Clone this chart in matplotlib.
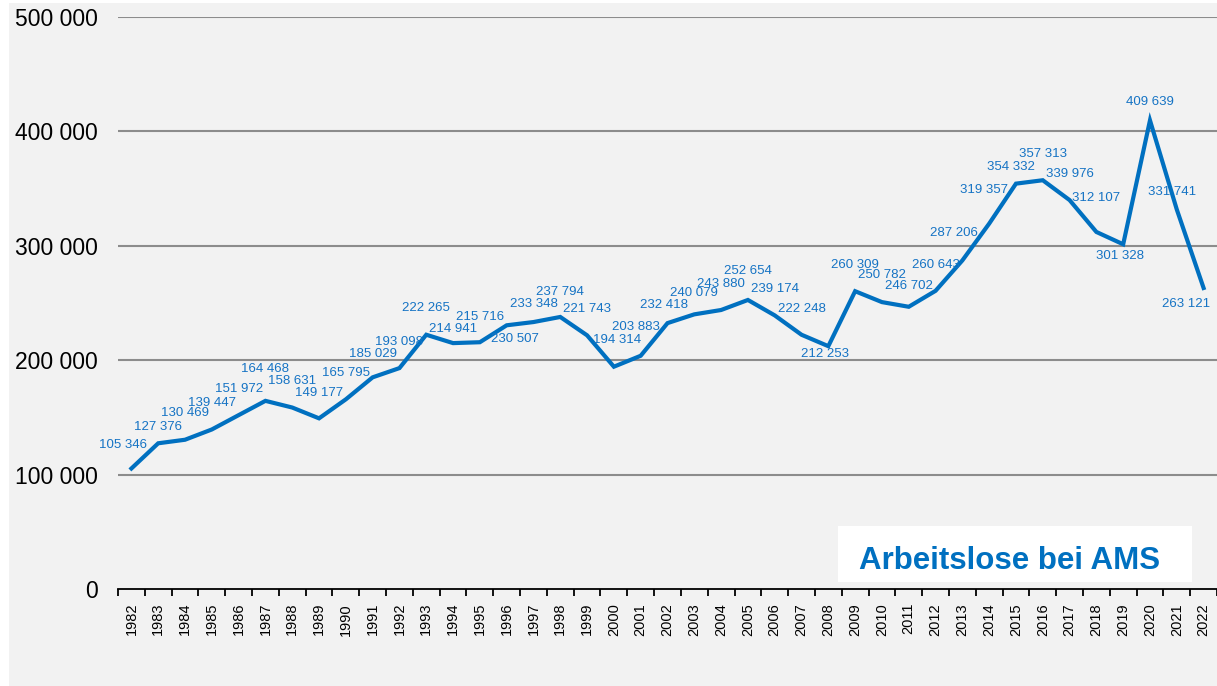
import matplotlib.pyplot as plt
from matplotlib.patches import Rectangle

plt.rcParams['font.family'] = ['Liberation Sans', 'DejaVu Sans']

# Arbeitslose bei AMS, Jahresdurchschnitt
years = list(range(1982, 2023))
values = [105346, 127376, 130469, 139447, 151972, 164468, 158631, 149177, 165795, 185029,
          193098, 222265, 214941, 215716, 230507, 233348, 237794, 221743, 194314, 203883,
          232418, 240079, 243880, 252654, 239174, 222248, 212253, 260309, 250782, 246702,
          260643, 287206, 319357, 354332, 357313, 339976, 312107, 301328, 409639, 331741,
          263121]
y_ticks = [0, 100000, 200000, 300000, 400000, 500000]

# label offsets in pixels (dx, dy), dy positive = below
label_off = [(-8, -23), (0, -16), (0, -27), (0, -26), (0, -26), (0, -32), (0, -27), (0, -25),
             (0, -26), (0, -23), (0, -26), (0, -27), (0, -14), (0, -25), (8, 14), (0, -18),
             (0, -25), (0, -26), (3, -27), (-5, -29), (-3, -18), (0, -21), (0, -26), (0, -29),
             (0, -26), (0, -26), (-3, 8), (0, -26), (0, -27), (0, -21), (0, -26), (-8, -27),
             (-5, -34), (-5, -17), (0, -26), (0, -26), (0, -34), (-3, 12), (0, -18), (-5, -17),
             (-18, 16)]

W, H = 1217, 686
fig = plt.figure(figsize=(W / 100, H / 100), dpi=100)
fig.patch.set_facecolor('white')
fig.patches.append(Rectangle((9 / W, 0), 1 - 9 / W, (H - 3) / H, transform=fig.transFigure,
                             facecolor='#f2f2f2', edgecolor='none', zorder=-1))

ax = fig.add_axes([118 / W, (H - 589) / H, (W - 118) / W, (589 - 17) / H])
ax.set_facecolor('#f2f2f2')
x = list(range(len(years)))
blue = '#0070c0'
ax.plot(x, values, color=blue, lw=3.0, solid_joinstyle='miter', zorder=3, clip_on=False)

for xi, v, (dx, dy) in zip(x, values, label_off):
    s = f"{v:,}".replace(',', ' ')
    ax.annotate(s, (xi, v), xytext=(dx, -dy), textcoords='offset pixels',
                ha='center', va='center', fontsize=9.5, color='#1573c4', zorder=4)

ax.set_xlim(-0.5, len(years) - 0.5)
ax.set_ylim(0, 500000)
ax.set_yticks(y_ticks)
ax.set_yticklabels([f"{t:,}".replace(',', ' ') for t in y_ticks], fontsize=16.5)
ax.tick_params(axis='y', length=0, pad=14.5)
ax.set_xticks(x)
ax.set_xticklabels([str(y) for y in years], rotation=90, fontsize=10.5)
ax.set_xticks([i - 0.5 for i in range(len(years) + 1)], minor=True)
ax.tick_params(axis='x', which='major', length=0, pad=10)
ax.tick_params(axis='x', which='minor', length=5, width=1.3, color='black')

for t in y_ticks[1:]:
    ax.axhline(t, color='#8c8c8c', lw=1.5, zorder=1)
for sp in ['top', 'right', 'left']:
    ax.spines[sp].set_visible(False)
ax.spines['bottom'].set_color('black')
ax.spines['bottom'].set_linewidth(1.3)

fig.patches.append(Rectangle((838 / W, (H - 582) / H), (1192 - 838) / W, (582 - 526) / H,
                             transform=fig.transFigure, facecolor='white', edgecolor='none', zorder=5))
fig.text(1010 / W, (H - 569) / H, 'Arbeitslose bei AMS', ha='center', va='baseline',
         fontsize=22.5, fontweight='bold', color=blue, zorder=6)

fig.savefig('out.png', dpi=100)
